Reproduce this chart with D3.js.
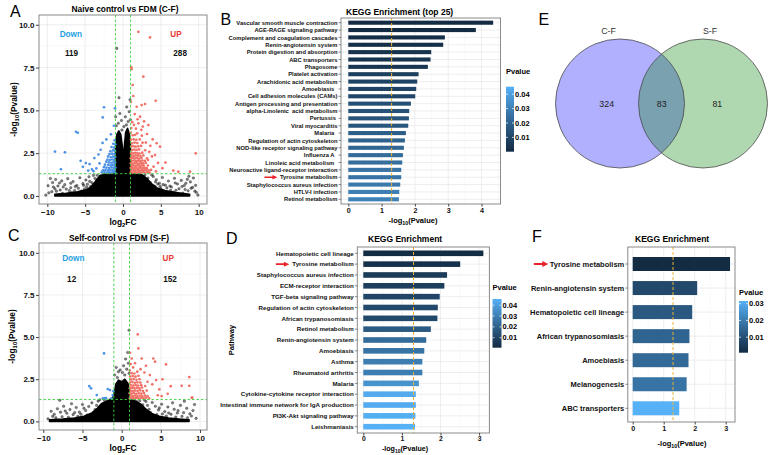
<!DOCTYPE html>
<html><head><meta charset="utf-8">
<script src="https://cdn.jsdelivr.net/npm/d3@7"></script>
<style>body{margin:0;background:#fff}text{font-family:"Liberation Sans",Arial,sans-serif;white-space:pre}</style>
</head><body><svg id="c" width="772" height="455"></svg>
<script>
// ================= DATA =================
// Volcano A (C-F): [log2FC, -log10 P]
const aUp = [[2.03,9.59],[3.57,9.26],[1.08,7.52],[1.14,7.41],[2.69,6.97],[1.28,6.48],[1.37,5.84],[4.32,5.56],[2.91,5.37],[2.47,5.31],[1.81,5.21],[1.04,5.5],[2.25,4.63],[1.55,4.78],[2.03,4.24],[3.35,4.14],[2.78,4.36],[1.22,4.31],[4.45,3.08],[4.89,2.88],[4.23,2.39],[6.65,1.48],[7.31,1.42],[8.86,1.42],[9.61,2.49],[3.92,3.31],[3.61,2.93],[3.18,3.62],[1.71,3.93],[2.42,3.86],[1.09,3.97],[3.02,3.12],[5.21,1.62],[4.62,1.93],[4.04,1.71],[3.83,2.31],[3.47,2.58],[1.93,4.48],[2.61,4.05],[1.45,4.15],[3.71,1.52],[4.35,1.44],[5.6,1.95],[3.3,2.1],
[1.05,1.38],[1.31,1.36],[1.57,1.4],[1.82,1.37],[2.08,1.39],[2.37,1.36],[2.63,1.41],[2.92,1.37],[3.21,1.39],[3.52,1.36],
[1.12,1.5],[1.41,1.52],[1.66,1.49],[1.96,1.51],[2.21,1.48],[2.49,1.52],[2.77,1.5],[3.06,1.53],[3.38,1.49],
[1.02,1.64],[1.27,1.62],[1.51,1.65],[1.77,1.63],[2.06,1.61],[2.31,1.66],[2.58,1.63],[2.86,1.64],[3.14,1.62],
[1.16,1.77],[1.39,1.79],[1.68,1.76],[1.94,1.78],[2.19,1.75],[2.46,1.79],[2.74,1.77],[3.28,1.78],
[1.04,1.91],[1.32,1.89],[1.61,1.92],[1.86,1.9],[2.11,1.88],[2.38,1.92],[2.66,1.9],[3.01,1.93],
[1.19,2.05],[1.46,2.07],[1.74,2.04],[2.01,2.06],[2.29,2.03],[2.56,2.07],[2.88,2.05],
[1.03,2.2],[1.29,2.22],[1.56,2.19],[1.84,2.21],[2.14,2.18],[2.44,2.22],[3.17,2.2],
[1.14,2.36],[1.42,2.34],[1.69,2.37],[1.99,2.35],[2.31,2.33],[2.69,2.37],
[1.06,2.51],[1.31,2.49],[1.59,2.52],[1.91,2.5],[2.19,2.48],[2.54,2.53],
[1.21,2.68],[1.49,2.71],[1.79,2.69],[2.12,2.72],[2.93,2.67],
[1.08,2.89],[1.36,2.91],[1.66,2.88],[2.01,2.9],[2.38,2.92],
[1.19,3.08],[1.54,3.12],[1.89,3.09],[2.58,3.11],
[1.05,3.29],[1.41,3.31],[1.76,3.28],[2.21,3.3],
[1.29,3.54],[1.61,3.57],[2.49,3.52],[1.02,3.7],[1.88,3.66]];
const aDown = [[-2.51,5.18],[-2.68,4.59],[-1.06,5.12],[-6.21,3.75],[-5.98,3.69],[-8.99,2.59],[-7.67,2.55],[-8.2,1.56],[-4.42,1.86],[-4.91,1.92],[-3.78,2.21],[-3.52,1.61],[-3.24,2.42],[-5.3,1.7],[-4.1,1.55],[-2.95,2.7],[-3.9,1.45],[-4.6,1.48],[-2.7,3.1],[-1.2,4.1],[-1.6,3.6],[-2.2,3.3],[-3.1,1.9],[-5.6,2.05],
[-1.04,1.37],[-1.28,1.4],[-1.55,1.36],[-1.83,1.39],[-2.12,1.37],[-2.45,1.41],[-2.8,1.38],
[-1.11,1.52],[-1.39,1.5],[-1.68,1.53],[-1.97,1.49],[-2.31,1.52],[-2.66,1.5],
[-1.02,1.66],[-1.24,1.64],[-1.51,1.67],[-1.82,1.63],[-2.18,1.66],[-2.52,1.68],
[-1.13,1.8],[-1.36,1.82],[-1.64,1.79],[-1.95,1.81],[-2.38,1.83],
[-1.04,1.95],[-1.27,1.97],[-1.53,1.94],[-1.86,1.96],[-2.21,2.0],
[-1.16,2.11],[-1.42,2.13],[-1.74,2.1],[-2.06,2.12],
[-1.03,2.27],[-1.31,2.3],[-1.61,2.26],[-1.97,2.31],
[-1.12,2.45],[-1.44,2.47],[-1.79,2.44],
[-1.05,2.63],[-1.33,2.66],[-1.68,2.61],
[-1.18,2.82],[-1.52,2.86],[-1.02,3.02],[-1.29,3.05],[-1.11,3.25]];
const aNs = [[-0.83,8.62],[-0.53,5.74],[0.49,5.2],[-0.97,4.63],[0.31,4.62],[-0.21,4.41],[0.82,4.92],[0.93,5.62],[-0.62,4.25],[0.12,4.05],[-0.41,4.82],[0.68,4.35],[-0.88,4.1],[0.45,4.15],[-0.15,3.85],[0.98,4.45],
[-9.6,1.02],[-9.3,0.78],[-8.9,0.96],[-8.6,0.58],[-8.1,0.88],[-7.7,0.66],[-7.3,1.01],[-6.9,0.48],[-6.6,0.84],[-6.1,0.61],[-5.7,1.06],[-5.3,0.72],[-4.9,0.93],[-4.5,1.12],[-4.1,0.77],[-3.7,1.02],[-3.4,1.21],[-3.0,1.16],[-2.6,1.26],[-9.0,0.42],[-8.3,0.35],[-7.5,0.4],[-6.4,0.32],[-5.9,0.45],[-5.1,0.41],[-4.3,0.55],[-3.6,0.62],[-9.8,0.18],[-9.4,0.25],[-2.2,1.2],[-3.2,0.85],[-4.7,0.68],[-6.8,0.2],[-8.0,0.15],[-10.2,0.05],[-9.9,0.6],
[-8.8,0.28],[-7.9,0.52],[-7.1,0.31],[-6.3,0.55],[-5.5,0.28],[-4.8,0.52],[-4.4,0.85],[-3.9,1.2],[-5.2,0.62],[-6.9,0.74],[-8.4,0.76],[-9.2,0.52],
[9.3,1.05],[8.9,0.82],[8.5,0.97],[8.1,0.61],[7.7,0.91],[7.2,0.7],[6.8,1.03],[6.4,0.52],[6.0,0.87],[5.6,0.63],[5.2,1.08],[4.8,0.74],[4.4,0.95],[4.0,1.14],[3.6,0.79],[3.3,1.05],[2.9,1.22],[2.5,1.18],[9.0,0.45],[8.2,0.38],[7.4,0.42],[6.3,0.33],[5.8,0.47],[5.0,0.43],[4.2,0.57],[3.5,0.65],[9.7,0.2],[9.5,0.28],[2.2,1.25],[3.1,0.88],[4.6,0.7],[6.7,0.22],[7.9,0.17],[9.9,0.05],[9.6,0.62],[8.7,1.15],
[8.6,0.3],[7.8,0.55],[7.0,0.33],[6.2,0.58],[5.4,0.3],[4.9,0.56],[4.3,0.82],[3.8,1.22],[5.3,0.66],[6.9,0.76],[8.3,0.74],[9.2,0.5]];
// saturated (overplotted) non-significant mass, outline in data units
const aCore = [[-9.0,0.0],[-9.0,0.1],[-7.5,0.16],[-6.0,0.24],[-5.0,0.34],[-4.3,0.5],[-3.8,0.75],[-3.4,1.0],[-3.0,1.2],[-2.4,1.27],[-1.6,1.28],[-1.05,1.4],[-1.0,2.5],[-0.95,3.2],[-0.8,3.6],[-0.55,3.8],[-0.3,3.6],[-0.12,3.0],[0.05,2.2],[0.2,3.0],[0.35,3.7],[0.6,3.95],[0.85,3.6],[0.98,3.0],[1.0,1.4],[1.6,1.28],[2.3,1.27],[2.8,1.15],[3.3,0.95],[3.8,0.7],[4.5,0.47],[5.5,0.32],[7.0,0.2],[8.8,0.1],[8.8,0.0]];
const aNotes = [["Down",-6.9,9.45,"down"],["119",-6.8,8.35,"n"],["UP",7.0,9.45,"up"],["288",7.55,8.35,"n"]];

// Volcano C (S-F)
const cUp = [[2.05,5.16],[2.13,4.33],[1.07,4.07],[1.28,3.73],[2.56,3.73],[4.04,3.73],[4.26,3.54],[5.66,3.38],[8.63,2.63],[6.26,2.09],[7.66,2.11],[8.63,2.11],[8.94,1.4],[9.02,1.41],[5.87,1.64],[3.1,3.3],[2.9,2.9],[1.7,3.45],[3.6,2.75],[4.4,2.45],[3.9,2.2],[4.8,1.9],[5.2,2.5],[2.4,3.1],[1.45,3.2],[3.3,2.35],[4.6,1.55],[5.1,1.5],[1.15,3.4],
[1.04,1.37],[1.29,1.4],[1.56,1.36],[1.84,1.39],[2.13,1.37],[2.45,1.4],[2.78,1.38],[3.12,1.41],[3.5,1.37],
[1.13,1.52],[1.42,1.5],[1.71,1.53],[1.99,1.49],[2.29,1.52],[2.62,1.5],[2.96,1.53],[3.3,1.5],
[1.02,1.67],[1.27,1.65],[1.55,1.68],[1.86,1.64],[2.17,1.67],[2.49,1.65],[2.85,1.68],
[1.16,1.82],[1.43,1.8],[1.73,1.83],[2.03,1.81],[2.36,1.84],[2.71,1.8],[3.2,1.83],
[1.05,1.97],[1.33,1.99],[1.62,1.96],[1.93,2.0],[2.25,1.97],[2.6,2.01],
[1.18,2.14],[1.48,2.12],[1.79,2.16],[2.11,2.13],[2.5,2.15],[3.0,2.1],
[1.06,2.3],[1.36,2.33],[1.67,2.29],[2.01,2.32],[2.39,2.3],
[1.21,2.48],[1.53,2.51],[1.88,2.47],[2.28,2.5],
[1.09,2.66],[1.41,2.69],[1.77,2.65],[2.15,2.7],
[1.27,2.86],[1.62,2.84],[1.03,3.02],[2.0,2.95]];
const cDown = [[-2.25,4.03],[-4.13,2.09],[-3.91,1.96],[-1.78,1.92],[-3.18,1.56],[-2.12,1.38],[-2.0,1.38],[-1.14,1.56],[-1.06,1.8],[-1.3,1.37],[-1.49,1.86],[-2.4,1.37]];
const cNs = [[0.94,5.41],[0.77,4.09],[0.5,3.7],[-0.42,2.94],[0.85,3.45],[-0.7,3.2],[0.25,3.3],[-0.2,3.05],[0.65,3.1],[-0.9,2.75],[0.95,2.85],[0.1,2.9],[-0.55,2.6],[0.4,2.75],
[-9.0,0.6],[-8.6,0.42],[-8.2,0.75],[-7.8,0.55],[-7.4,0.9],[-7.0,0.48],[-6.6,0.7],[-6.2,0.4],[-5.8,0.82],[-5.4,0.55],[-5.0,1.0],[-4.6,0.65],[-4.2,0.88],[-3.8,1.1],[-3.4,0.7],[-3.0,1.2],[-2.6,0.95],[-2.2,1.25],[-1.8,1.15],[-8.8,0.3],[-7.6,0.28],[-6.8,0.25],[-5.6,0.3],[-4.4,0.38],[-9.4,0.15],[-3.6,0.5],[-1.5,1.28],[-7.9,1.25],[-6.4,1.05],
[-8.4,0.22],[-7.2,0.62],[-6.0,0.52],[-5.2,0.42],[-4.8,0.78],[-3.2,0.95],[-2.8,1.28],
[9.1,0.65],[8.7,0.45],[8.3,0.78],[7.9,0.52],[7.5,0.95],[7.1,0.5],[6.7,0.72],[6.3,0.42],[5.9,0.85],[5.5,0.58],[5.1,1.02],[4.7,0.68],[4.3,0.9],[3.9,1.12],[3.5,0.72],[3.1,1.18],[2.7,0.98],[2.3,1.22],[1.9,1.18],[8.9,0.32],[7.7,0.3],[6.9,0.26],[5.7,0.32],[4.5,0.4],[9.5,0.18],[3.7,0.52],[1.6,1.3],[8.0,1.2],[6.5,1.1],[9.3,1.0],
[8.4,0.22],[7.2,0.64],[6.0,0.5],[5.2,0.44],[4.8,0.8],[3.3,0.95],[2.9,1.27]];
const cCore = [[-9.2,0.0],[-9.2,0.09],[-7.5,0.14],[-6.0,0.2],[-4.8,0.3],[-3.8,0.5],[-3.1,0.78],[-2.6,1.05],[-1.8,1.22],[-1.2,1.3],[-0.9,1.8],[-0.75,2.2],[-0.4,2.45],[0.0,2.35],[0.4,2.5],[0.8,2.25],[0.95,1.9],[1.0,1.3],[1.8,1.2],[2.5,1.0],[3.1,0.72],[3.9,0.45],[4.8,0.3],[6.0,0.2],[7.3,0.14],[8.6,0.09],[8.6,0.0]];
const cNotes = [["Down",-6.17,9.7,"down"],["12",-6.38,8.44,"n"],["UP",5.95,9.7,"up"],["152",6.17,8.44,"n"]];
const volcXTicks = [-10,-5,0,5,10];
const volcYTicks = [0,2.5,5,7.5,10];

// KEGG B (top 25)
const bPath = ["Vascular smooth muscle contraction","AGE-RAGE signaling pathway","Complement and coagulation cascades","Renin-angiotensin system","Protein digestion and absorption","ABC transporters","Phagosome","Platelet activation","Arachidonic acid metabolism","Amoebiasis  ","Cell adhesion molecules (CAMs)","Antigen processing and presentation","alpha-Linolenic  acid metabolism","Pertussis ","Viral myocarditis","Malaria  ","Regulation of actin cytoskeleton","NOD-like receptor signaling pathway","Influenza A  ","Linoleic acid metabolism  ","Neuroactive ligand-receptor interaction","Tyrosine metabolism","Staphylococcus aureus infection","HTLV-I infection","Retinol metabolism"];
const bVal = [4.35,3.83,2.90,2.85,2.49,2.47,2.39,2.11,2.07,2.04,2.01,1.88,1.83,1.82,1.80,1.73,1.70,1.67,1.64,1.62,1.59,1.59,1.56,1.53,1.52];
const bTicks = [0,1,2,3,4];
const bPRange = [0.00004,0.0452];
// KEGG D
const dPath = ["Hematopoietic cell lineage","Tyrosine metabolism","Staphylococcus aureus infection","ECM-receptor interaction","TGF-beta signaling pathway","Regulation of actin cytoskeleton","African trypanosomiasis","Retinol metabolism","Renin-angiotensin system","Amoebiasis","Asthma","Rheumatoid arthritis","Malaria","Cytokine-cytokine receptor interaction","Intestinal immune network for IgA production","PI3K-Akt signaling pathway","Leishmaniasis"];
const dVal = [3.11,2.51,2.17,2.10,1.98,1.93,1.92,1.75,1.63,1.58,1.53,1.53,1.44,1.36,1.36,1.35,1.34];
const dTicks = [0,1,2,3];
const dPRange = [0.00078,0.0457];
// KEGG F
const fPath = ["Tyrosine metabolism","Renin-angiotensin system","Hematopoietic cell lineage","African trypanosomiasis","Amoebiasis","Melanogenesis","ABC transporters"];
const fVal = [3.14,2.08,1.92,1.83,1.80,1.74,1.50];
const fTicks = [0,1,2,3];
const fPRange = [0.00072,0.0316];
const legTicks4 = [0.01,0.02,0.03,0.04];
const legTicks3 = [0.01,0.02,0.03];
// Venn E
const vennNames = ["C-F","S-F"];
const vennCounts = [324,83,81];

// ================= DRAW =================
const svg = d3.select("#c");
svg.append("rect").attr("width",772).attr("height",455).attr("fill","#fff");
const defs = svg.append("defs");
const ramp = d3.interpolateLab("#132B43","#56B1F7");
const GRID="#e6e6e6", GRIDMIN="#f3f3f3", BORDER="#8a8a8a";

function subTitle(t, pre, sub, post, fs){
  t.append("tspan").text(pre);
  t.append("tspan").attr("font-size",fs*0.7).attr("dy",fs*0.28).text(sub);
  t.append("tspan").attr("dy",-fs*0.28).text(post);
}
function letter(s,x,y){svg.append("text").attr("x",x).attr("y",y).attr("font-size",16).text(s);}

function volcano(o){
  const g = svg.append("g");
  const x = d3.scaleLinear().domain(o.xd).range([o.L,o.R]);
  const y = d3.scaleLinear().domain(o.yd).range([o.B,o.T]);
  const cid = "clip"+o.id;
  defs.append("clipPath").attr("id",cid).append("rect").attr("x",o.L).attr("y",o.T).attr("width",o.R-o.L).attr("height",o.B-o.T);
  const pg = g.append("g").attr("clip-path",`url(#${cid})`);
  const xMin = volcXTicks.slice(1).map((v,i)=>(v+volcXTicks[i])/2);
  const yMin = volcYTicks.slice(1).map((v,i)=>(v+volcYTicks[i])/2);
  pg.selectAll(".gxm").data(xMin).join("line").attr("x1",d=>x(d)).attr("x2",d=>x(d)).attr("y1",o.T).attr("y2",o.B).attr("stroke",GRIDMIN).attr("stroke-width",0.5);
  pg.selectAll(".gym").data(yMin).join("line").attr("y1",d=>y(d)).attr("y2",d=>y(d)).attr("x1",o.L).attr("x2",o.R).attr("stroke",GRIDMIN).attr("stroke-width",0.5);
  pg.selectAll(".gx").data(volcXTicks).join("line").attr("x1",d=>x(d)).attr("x2",d=>x(d)).attr("y1",o.T).attr("y2",o.B).attr("stroke",GRID).attr("stroke-width",0.7);
  pg.selectAll(".gy").data(volcYTicks).join("line").attr("y1",d=>y(d)).attr("y2",d=>y(d)).attr("x1",o.L).attr("x2",o.R).attr("stroke",GRID).attr("stroke-width",0.7);
  // dense core (overplotted area)
  pg.append("path").datum(o.core).attr("d",d=>d3.line().x(p=>x(p[0])).y(p=>y(p[1]))(d)+"Z")
    .attr("fill","#000").attr("stroke","#000").attr("stroke-width",1.6).attr("stroke-linejoin","round");
  pg.selectAll(".ns").data(o.ns).join("circle").attr("cx",d=>x(d[0])).attr("cy",d=>y(d[1])).attr("r",1.3)
    .attr("fill","#000").attr("fill-opacity",0.5).attr("stroke","#000").attr("stroke-opacity",0.6).attr("stroke-width",0.4);
  pg.selectAll(".dn").data(o.down).join("circle").attr("cx",d=>x(d[0])).attr("cy",d=>y(d[1])).attr("r",1.35).attr("fill","#4c92e4");
  pg.selectAll(".up").data(o.up).join("circle").attr("cx",d=>x(d[0])).attr("cy",d=>y(d[1])).attr("r",1.35).attr("fill","#f07167");
  // thresholds
  const th = [-1,1];
  pg.selectAll(".tv").data(th).join("line").attr("x1",d=>x(d)).attr("x2",d=>x(d)).attr("y1",o.T).attr("y2",o.B)
    .attr("stroke","#3ccf3c").attr("stroke-width",0.9).attr("stroke-dasharray","2.5,2");
  pg.append("line").attr("x1",o.L).attr("x2",o.R).attr("y1",y(-Math.log10(0.05))).attr("y2",y(-Math.log10(0.05)))
    .attr("stroke","#3ccf3c").attr("stroke-width",0.9).attr("stroke-dasharray","2.5,2");
  g.append("rect").attr("x",o.L).attr("y",o.T).attr("width",o.R-o.L).attr("height",o.B-o.T).attr("fill","none").attr("stroke",BORDER).attr("stroke-width",1);
  // axes
  const ax = g.append("g").attr("transform",`translate(0,${o.B})`).call(d3.axisBottom(x).tickValues(volcXTicks).tickSize(3).tickPadding(2).tickFormat(d3.format("d")));
  const ay = g.append("g").attr("transform",`translate(${o.L},0)`).call(d3.axisLeft(y).tickValues(volcYTicks).tickSize(3).tickPadding(1.5).tickFormat(d3.format(".1f")));
  [ax,ay].forEach(a=>{a.select(".domain").remove();a.selectAll("line").attr("stroke","#444");
    a.selectAll("text").attr("font-size",8).attr("font-weight","bold").attr("fill","#111").attr("font-family",'"Liberation Sans",Arial,sans-serif');});
  // notes
  const col = {down:"#1fa0e2",up:"#e83a36",n:"#111"};
  g.selectAll(".note").data(o.notes).join("text").attr("x",d=>x(d[1])).attr("y",d=>y(d[2])+3).attr("text-anchor","middle")
    .attr("font-size",8.2).attr("font-weight","bold").attr("fill",d=>col[d[3]]).text(d=>d[0]);
  // titles
  g.append("text").attr("x",o.titleX).attr("y",o.titleY).attr("text-anchor","middle").attr("font-size",8.4).attr("font-weight","bold").text(o.title);
  const xt = g.append("text").attr("x",(o.L+o.R)/2).attr("y",o.xTitleY).attr("text-anchor","middle").attr("font-size",8.4).attr("font-weight","bold");
  subTitle(xt,"log","2","FC",8.4);
  const yt = g.append("text").attr("transform",`translate(${o.yTitleX},${(o.T+o.B)/2}) rotate(-90)`).attr("text-anchor","middle").attr("font-size",8.4).attr("font-weight","bold");
  subTitle(yt,"-log","10","(Pvalue)",8.4);
}

volcano({id:"A",L:39,R:207,T:15,B:204,xd:[-11.1,11.1],yd:[-0.47,10.57],up:aUp,down:aDown,ns:aNs,core:aCore,notes:aNotes,
  title:"Naive control vs FDM (C-F)",titleX:125,titleY:12,xTitleY:224.5,yTitleX:17});
volcano({id:"C",L:39,R:207,T:243,B:430,xd:[-10.55,10.89],yd:[-0.51,10.58],up:cUp,down:cDown,ns:cNs,core:cCore,notes:cNotes,
  title:"Self-control vs FDM (S-F)",titleX:119,titleY:241,xTitleY:450.5,yTitleX:15});

function legend(o){
  const id="grad"+o.id;
  const gr = defs.append("linearGradient").attr("id",id).attr("x1",0).attr("y1",0).attr("x2",0).attr("y2",1);
  d3.range(0,1.0001,0.1).forEach(t=>gr.append("stop").attr("offset",t).attr("stop-color",ramp(1-t)));
  const g = svg.append("g");
  g.append("text").attr("x",o.x).attr("y",o.titleY).attr("font-size",7.5).attr("font-weight","bold").text("Pvalue");
  g.append("rect").attr("x",o.x).attr("y",o.y0).attr("width",o.w).attr("height",o.y1-o.y0).attr("fill",`url(#${id})`);
  const ly = d3.scaleLinear().domain(o.pr).range([o.y1,o.y0]);
  g.selectAll(".lt").data(o.ticks).join("g").each(function(d){
    const s=d3.select(this), yy=ly(d);
    s.append("line").attr("x1",o.x).attr("x2",o.x+2).attr("y1",yy).attr("y2",yy).attr("stroke","#fff").attr("stroke-width",0.7);
    s.append("line").attr("x1",o.x+o.w-2).attr("x2",o.x+o.w).attr("y1",yy).attr("y2",yy).attr("stroke","#fff").attr("stroke-width",0.7);
    s.append("text").attr("x",o.x+o.w+1).attr("y",yy+2.6).attr("font-size",7.5).attr("font-weight","bold").text(d3.format(".2f")(d));
  });
}

function barPanel(o){
  const g = svg.append("g");
  const x = d3.scaleLinear().domain([0,1]).range([o.x0,o.x0+o.unit]);
  const y = d3.scalePoint().domain(o.cats).range(o.centers);
  const color = v=>ramp((Math.pow(10,-v)-o.pr[0])/(o.pr[1]-o.pr[0]));
  const halfTicks = o.ticks.map(t=>t+0.5).filter(t=>x(t)<o.R);
  g.selectAll(".gm").data(halfTicks).join("line").attr("x1",d=>x(d)).attr("x2",d=>x(d)).attr("y1",o.T).attr("y2",o.B).attr("stroke",GRIDMIN).attr("stroke-width",0.5);
  g.selectAll(".gx").data(o.ticks).join("line").attr("x1",d=>x(d)).attr("x2",d=>x(d)).attr("y1",o.T).attr("y2",o.B).attr("stroke",GRID).attr("stroke-width",0.7);
  g.selectAll(".gy").data(o.cats).join("line").attr("x1",o.L).attr("x2",o.R).attr("y1",d=>y(d)).attr("y2",d=>y(d)).attr("stroke",GRID).attr("stroke-width",0.7);
  g.selectAll(".bar").data(o.vals).join("rect").attr("x",x(0)).attr("width",d=>x(d)-x(0))
    .attr("y",(d,i)=>y(o.cats[i])-o.bh/2).attr("height",o.bh).attr("fill",d=>color(d));
  g.append("line").attr("x1",x(-Math.log10(0.05))).attr("x2",x(-Math.log10(0.05))).attr("y1",o.T).attr("y2",o.B)
    .attr("stroke","#f0b232").attr("stroke-width",1).attr("stroke-dasharray","3,2");
  g.append("rect").attr("x",o.L).attr("y",o.T).attr("width",o.R-o.L).attr("height",o.B-o.T).attr("fill","none").attr("stroke",BORDER).attr("stroke-width",1);
  // y labels
  const lab = g.selectAll(".yl").data(o.cats).join("g");
  lab.append("line").attr("x1",o.L-2.5).attr("x2",o.L).attr("y1",d=>y(d)).attr("y2",d=>y(d)).attr("stroke","#444").attr("stroke-width",0.6);
  lab.append("text").attr("x",o.L-3.5).attr("y",d=>y(d)+o.fs*0.36).attr("text-anchor","end").attr("font-size",o.fs).attr("font-weight","bold").attr("fill","#111").text(d=>d);
  // arrow to Tyrosine metabolism
  const ti = o.cats.indexOf("Tyrosine metabolism");
  const tnode = lab.filter((d,i)=>i===ti).select("text").node();
  const tw = tnode.getComputedTextLength();
  const ax1 = o.L-3.5-tw-o.gap, ax0 = ax1-o.alen, ay = y(o.cats[ti]);
  g.append("path").attr("d",`M${ax0},${ay-o.sw/2}L${ax1-o.ah},${ay-o.sw/2}L${ax1-o.ah},${ay-o.aw/2}L${ax1},${ay}L${ax1-o.ah},${ay+o.aw/2}L${ax1-o.ah},${ay+o.sw/2}L${ax0},${ay+o.sw/2}Z`).attr("fill","#e8232b");
  // x axis
  const xa = g.append("g").attr("transform",`translate(0,${o.B})`).call(d3.axisBottom(x).tickValues(o.ticks).tickSize(2.5).tickPadding(1).tickFormat(d3.format("d")));
  xa.select(".domain").remove(); xa.selectAll("line").attr("stroke","#444");
  xa.selectAll("text").attr("font-size",o.tfs).attr("font-weight","bold").attr("fill","#111").attr("font-family",'"Liberation Sans",Arial,sans-serif');
  g.append("text").attr("x",o.titleX).attr("y",o.titleY).attr("font-size",8.5).attr("font-weight","bold").text(o.title);
  const xt = g.append("text").attr("x",o.xtX).attr("y",o.xtY).attr("text-anchor","middle").attr("font-size",o.xtfs).attr("font-weight","bold");
  subTitle(xt,"-log","10","(Pvalue)",o.xtfs);
  legend(o.leg);
}

barPanel({cats:bPath,vals:bVal,ticks:bTicks,pr:bPRange,x0:348.3,unit:33.3,L:341,R:500.5,T:18,B:204,centers:[22.7,199.3],bh:4.1,fs:5.8,tfs:7.2,xtfs:7.5,
  title:"KEGG Enrichment (top 25)",titleX:346,titleY:15,xtX:413,xtY:223,gap:2.5,alen:13,ah:5,aw:4.6,sw:1.6,
  leg:{id:"B",x:506,titleY:74,y0:86.7,y1:151.7,w:8,pr:bPRange,ticks:legTicks4}});
barPanel({cats:dPath,vals:dVal,ticks:dTicks,pr:dPRange,x0:363.3,unit:38.6,L:357.3,R:489.4,T:247,B:433,centers:[253.3,426.7],bh:5.6,fs:6.2,tfs:6.8,xtfs:7.1,
  title:"KEGG Enrichment",titleX:368,titleY:241.5,xtX:405,xtY:451,gap:3,alen:13.5,ah:5.5,aw:5,sw:1.7,
  leg:{id:"D",x:492.5,titleY:290,y0:299,y1:347.7,w:9,pr:dPRange,ticks:legTicks4}});
barPanel({cats:fPath,vals:fVal,ticks:fTicks,pr:fPRange,x0:632.7,unit:31,L:627.8,R:735,T:247,B:422,centers:[264,408.3],bh:14,fs:7.5,tfs:7.2,xtfs:7.5,
  title:"KEGG Enrichment",titleX:635,titleY:241.5,xtX:682,xtY:446,gap:1.5,alen:14.5,ah:6,aw:6,sw:2,
  leg:{id:"F",x:739,titleY:294.5,y0:301,y1:352.7,w:9,pr:fPRange,ticks:legTicks3}});
// Pathway axis title for D
svg.append("text").attr("transform","translate(233.5,340) rotate(-90)").attr("text-anchor","middle").attr("font-size",7.5).attr("font-weight","bold").text("Pathway");

// Venn E
(function(){
  const cy=103.5, r=64.5, cx=[620,703];
  const g = svg.append("g");
  const cols = ["#0000ff","#008000"];
  g.selectAll(".vc").data(vennNames).join("circle").attr("cx",(d,i)=>cx[i]).attr("cy",cy).attr("r",r).attr("fill",(d,i)=>cols[i]).attr("fill-opacity",0.31);
  g.selectAll(".vs").data(vennNames).join("circle").attr("cx",(d,i)=>cx[i]).attr("cy",cy).attr("r",r).attr("fill","none").attr("stroke","#4a4a4a").attr("stroke-width",0.8);
  const lx=[608.5,710];
  g.selectAll(".vn").data(vennNames).join("text").attr("x",(d,i)=>lx[i]).attr("y",34).attr("text-anchor","middle")
    .attr("font-family",'"Liberation Serif","Times New Roman",serif').attr("font-size",8.8).attr("fill","#333").text(d=>d);
  const nx=[606.7,661.7,717.3];
  g.selectAll(".vv").data(vennCounts).join("text").attr("x",(d,i)=>nx[i]).attr("y",cy+3).attr("text-anchor","middle")
    .attr("font-family",'"Liberation Serif","Times New Roman",serif').attr("font-size",8.8).attr("fill","#222").text(d=>d);
})();

letter("A",10,17); letter("B",220.5,24.5); letter("C",8,241); letter("D",226,243.5); letter("E",538.5,24.5); letter("F",532,242);
</script></body></html>
